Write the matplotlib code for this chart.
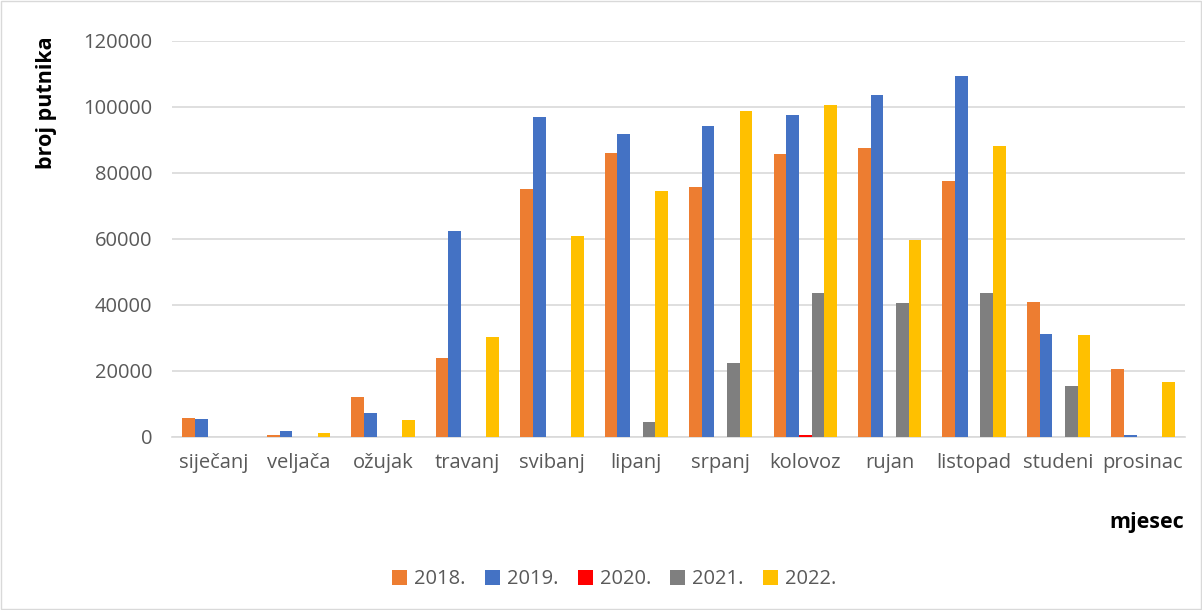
import numpy as np
import matplotlib.pyplot as plt
from matplotlib.patches import Rectangle

plt.rcParams['font.family'] = ['Open Sans', 'DejaVu Sans']

mjeseci = ['siječanj', 'veljača', 'ožujak', 'travanj', 'svibanj', 'lipanj',
           'srpanj', 'kolovoz', 'rujan', 'listopad', 'studeni', 'prosinac']
godine = ['2018.', '2019.', '2020.', '2021.', '2022.']
boje = ['#ED7D31', '#4472C4', '#FF0000', '#7F7F7F', '#FFC000']

p2018 = [5800, 500, 12000, 24000, 75000, 86000, 75800, 85800, 87400, 77500, 40800, 20400]
p2019 = [5300, 1800, 7300, 62500, 97000, 91800, 94200, 97500, 103500, 109500, 31000, 500]
p2020 = [0, 0, 0, 0, 0, 0, 0, 600, 0, 0, 0, 0]
p2021 = [0, 0, 0, 0, 0, 4600, 22300, 43500, 40500, 43500, 15500, 0]
p2022 = [0, 1200, 5100, 30300, 61000, 74500, 98700, 100500, 59700, 88000, 30800, 16700]
serije = [p2018, p2019, p2020, p2021, p2022]

fig = plt.figure(figsize=(12.02, 6.10), dpi=100)
ax = fig.add_axes([0.143, 0.284, 0.843, 0.649])

x = np.arange(len(mjeseci))
w = 0.15
for i, (vals, lab, c) in enumerate(zip(serije, godine, boje)):
    ax.bar(x + (i - 2) * w, vals, w, color=c, label=lab, zorder=3)

ax.set_xlim(-0.5, len(mjeseci) - 0.5)
ax.set_ylim(0, 120000)
ax.set_yticks(np.arange(0, 120001, 20000))
ax.set_xticks(x)
ax.set_xticklabels(mjeseci)
ax.grid(axis='y', color='#D9D9D9', linewidth=1.2, zorder=0)
for s in ['top', 'right', 'left']:
    ax.spines[s].set_visible(False)
ax.spines['bottom'].set_color('#D9D9D9')
ax.spines['bottom'].set_linewidth(1.2)
ax.tick_params(axis='both', length=0, labelsize=14.5, colors='#595959')
ax.tick_params(axis='x', pad=12)
ax.tick_params(axis='y', pad=14)

fig.text(0.039, 0.831, 'broj putnika', rotation=90, fontsize=15.5, fontweight='bold',
         ha='center', va='center')
fig.text(0.954, 0.144, 'mjesec', fontsize=15.5, fontweight='bold', ha='center', va='center')

fig.legend(loc='center', bbox_to_anchor=(0.511, 0.05), ncol=5, frameon=False,
           fontsize=14.5, handlelength=0.75, handleheight=0.75, handletextpad=0.35,
           columnspacing=0.95, labelcolor='#595959')

fig.patches.append(Rectangle((0.001, 0.001), 0.998, 0.998, transform=fig.transFigure,
                             fill=False, edgecolor='#D9D9D9', linewidth=1))

fig.savefig('out.png', dpi=100)
